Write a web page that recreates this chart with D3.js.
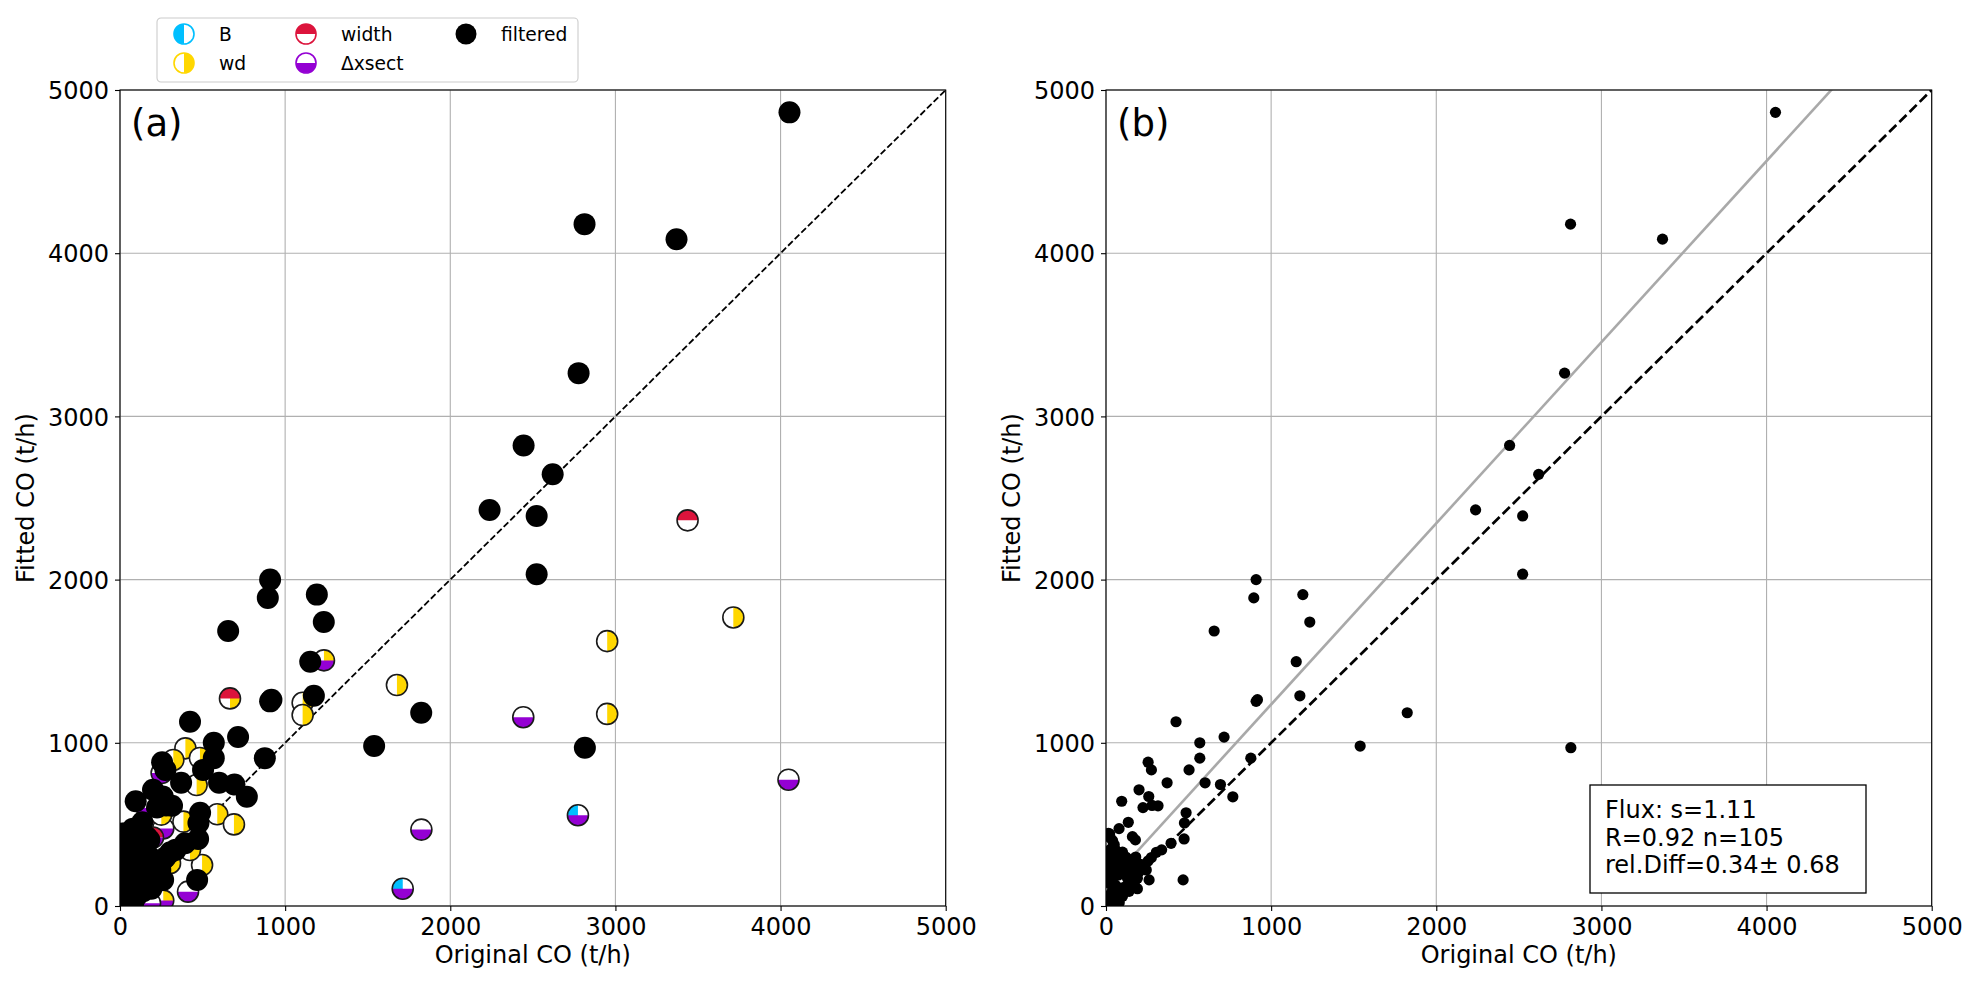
<!DOCTYPE html>
<html>
<head>
<meta charset="utf-8">
<script src="https://cdn.jsdelivr.net/npm/d3@7"></script>
<style>
  body { margin: 0; background: #fff; }
  svg { font-family: "DejaVu Sans", sans-serif; }
</style>
</head>
<body>
<div id="chart"></div>
<script>
// axis ticks (both panels share the same range)
const tickValues = [0, 1000, 2000, 3000, 4000, 5000];

// filtered points (black): original CO, fitted CO
const filteredX = [4054, 2813, 3370, 2777, 2444, 2620, 2238, 2523, 2523,
  909, 895, 1192, 1234, 655, 1152, 917, 909, 1174, 1824, 424, 1539, 568, 715, 568, 877,
  255, 275, 503, 370, 600, 693, 768, 200, 259, 224, 279, 315, 95, 485, 475, 135, 79,
  160, 178, 22, 473, 394, 337, 305, 275, 255, 244, 261, 467, 190, 83, 2815,
  15, 25, 40, 50, 30, 60, 20, 45, 70, 35, 80, 10,
  100, 120, 140, 160, 180, 130, 110, 150, 200, 190, 170, 210, 225,
  5, 15, 25, 40, 55, 20, 70, 90, 120, 140, 100, 60, 35, 80, 150, 30, 10, 50, 75,
  130, 95, 65, 180];
const filteredY = [4863, 4178, 4086, 3265, 2822, 2645, 2427, 2390, 2033,
  2000, 1888, 1908, 1740, 1685, 1497, 1264, 1254, 1288, 1184, 1129, 980, 1000, 1035, 906, 906,
  881, 834, 834, 755, 755, 744, 669, 712, 671, 603, 616, 614, 642, 571, 509, 513, 474,
  425, 405, 442, 411, 384, 344, 329, 297, 276, 221, 160, 160, 106, 47, 970,
  445, 420, 400, 375, 350, 340, 310, 300, 320, 280, 275, 250,
  330, 300, 285, 250, 230, 240, 210, 200, 210, 170, 140, 255, 240,
  20, 45, 70, 100, 130, 140, 90, 110, 120, 90, 60, 40, 15, 20, 130, 170, 190, 210, 190,
  170, 270, 240, 300];

// rejected points with the reason flags
const rejectedX = [3437, 3714, 2950, 2950, 1677, 2442, 4048, 2773, 1825, 1712,
  1235, 666, 1106, 1106, 396, 484, 323, 464, 589, 690, 497, 424, 384, 303,
  412, 262, 182, 252, 161, 222, 262, 20, 150, 200, 100, 60, 250];
const rejectedY = [2363, 1768, 1623, 1177, 1354, 1157, 774, 556, 468, 106,
  1505, 1272, 1245, 1170, 966, 907, 895, 741, 562, 500, 251, 343, 517, 262,
  88, 33, 17, 815, 600, 508, 475, 282, 380, 420, 150, 60, 560];
const rejectedFlags = ["width", "wd", "wd", "wd", "wd", "dx", "dx", "B dx", "dx", "B dx",
  "wd dx", "wd width", "wd", "wd", "wd", "wd", "wd", "wd", "wd", "wd", "wd", "wd", "wd", "wd",
  "dx", "wd dx", "dx", "dx", "dx", "width", "dx", "width", "wd", "width dx", "dx", "wd", "wd"];

const flagNames = ["B", "wd", "width", "dx"];
const flagLabels = ["B", "wd", "width", "\u0394xsect"];
const flagColors = ["#00bfff", "#ffd700", "#dc143c", "#9400d3"];

const fitSlope = 1.11, fitIntercept = 125;
const statLines = ["Flux: s=1.11", "R=0.92 n=105", "rel.Diff=0.34\u00b1 0.68"];

const W = 1978, H = 986;
const svg = d3.select("#chart").append("svg").attr("width", W).attr("height", H);

// half disc paths for each flag
function halfPath(flag, r) {
  if (flag === "B") return `M0,${-r}A${r},${r} 0 0 0 0,${r}Z`;
  if (flag === "wd") return `M0,${-r}A${r},${r} 0 0 1 0,${r}Z`;
  if (flag === "width") return `M${-r},0A${r},${r} 0 0 1 ${r},0Z`;
  return `M${-r},0A${r},${r} 0 0 0 ${r},0Z`;
}

function makePanel(id, left, label) {
  const p = { left: left, top: 90, w: 825.7, h: 816 };
  p.g = svg.append("g").attr("transform", `translate(${p.left},${p.top})`);
  p.x = d3.scaleLinear().domain([0, 5000]).range([0, p.w]);
  p.y = d3.scaleLinear().domain([0, 5000]).range([p.h, 0]);

  svg.append("clipPath").attr("id", "clip" + id)
    .append("rect").attr("width", p.w).attr("height", p.h);

  // grid
  const grid = p.g.append("g").attr("stroke", "#b0b0b0").attr("stroke-width", 1.1);
  grid.selectAll(".gx").data(tickValues).join("line")
    .attr("x1", d => p.x(d)).attr("x2", d => p.x(d)).attr("y1", 0).attr("y2", p.h);
  grid.selectAll(".gy").data(tickValues).join("line")
    .attr("y1", d => p.y(d)).attr("y2", d => p.y(d)).attr("x1", 0).attr("x2", p.w);

  p.area = p.g.append("g").attr("clip-path", `url(#clip${id})`);

  // axes
  const fmt = d3.format("d");
  const ax = p.g.append("g").attr("transform", `translate(0,${p.h})`)
    .call(d3.axisBottom(p.x).tickValues(tickValues).tickFormat(fmt).tickSize(5).tickPadding(6));
  const ay = p.g.append("g")
    .call(d3.axisLeft(p.y).tickValues(tickValues).tickFormat(fmt).tickSize(5).tickPadding(6));
  [ax, ay].forEach(a => {
    a.select(".domain").remove();
    a.selectAll("line").attr("stroke", "#000").attr("stroke-width", 1.1);
    a.selectAll("text").attr("font-size", 24).attr("fill", "#000")
      .attr("font-family", "DejaVu Sans");
  });
  ax.selectAll("text").attr("dy", "0.74em");
  ay.selectAll("text").attr("dy", "0.36em");

  p.g.append("text").attr("x", p.w / 2).attr("y", p.h + 57)
    .attr("text-anchor", "middle").attr("font-size", 24).text("Original CO (t/h)");
  p.g.append("text").attr("transform", `translate(-86,${p.h / 2}) rotate(-90)`)
    .attr("text-anchor", "middle").attr("font-size", 24).text("Fitted CO (t/h)");
  p.g.append("text").attr("x", 11).attr("y", 46).attr("font-size", 37).text(label);
  return p;
}

function frame(p) {
  p.g.append("rect").attr("width", p.w).attr("height", p.h)
    .attr("fill", "none").attr("stroke", "#000").attr("stroke-width", 1.1);
}

function drawFlagMarker(g, flags, r, edge) {
  g.append("circle").attr("r", r).attr("fill", "#fff");
  flagNames.forEach((f, i) => {
    if (flags.includes(f)) g.append("path").attr("d", halfPath(f, r)).attr("fill", flagColors[i]);
  });
  g.append("circle").attr("r", r).attr("fill", "none")
    .attr("stroke", edge).attr("stroke-width", 1.6);
}

// ---------- panel (a)
const pa = makePanel("a", 120, "(a)");
pa.area.append("line")
  .attr("x1", pa.x(0)).attr("y1", pa.y(0)).attr("x2", pa.x(5000)).attr("y2", pa.y(5000))
  .attr("stroke", "#000").attr("stroke-width", 1.8).attr("stroke-dasharray", "6.5,2.8");

rejectedX.forEach((v, i) => {
  const g = pa.area.append("g")
    .attr("transform", `translate(${pa.x(v)},${pa.y(rejectedY[i])})`);
  drawFlagMarker(g, rejectedFlags[i].split(" "), 10.5, "#1a1a1a");
});
pa.area.selectAll(".filt").data(filteredX).join("circle")
  .attr("cx", d => pa.x(d)).attr("cy", (d, i) => pa.y(filteredY[i]))
  .attr("r", 11).attr("fill", "#000");
frame(pa);

// legend
const leg = svg.append("g").attr("transform", "translate(157,18)");
leg.append("rect").attr("width", 421).attr("height", 64).attr("rx", 4)
  .attr("fill", "#fff").attr("stroke", "#cccccc").attr("stroke-width", 1.1);
const legItems = [
  { flag: "B", col: 0, row: 0 }, { flag: "wd", col: 0, row: 1 },
  { flag: "width", col: 1, row: 0 }, { flag: "dx", col: 1, row: 1 },
  { flag: "filtered", col: 2, row: 0 }
];
const colX = [27, 149, 309];
legItems.forEach(it => {
  const mx = colX[it.col], my = 16 + it.row * 29;
  const g = leg.append("g").attr("transform", `translate(${mx},${my})`);
  const k = flagNames.indexOf(it.flag);
  if (it.flag === "filtered") {
    g.append("circle").attr("r", 10.5).attr("fill", "#000");
  } else {
    drawFlagMarker(g, [it.flag], 10, flagColors[k]);
  }
  leg.append("text").attr("x", mx + 35).attr("y", my + 7).attr("font-size", 18.7)
    .text(it.flag === "filtered" ? "filtered" : flagLabels[k]);
});

// ---------- panel (b)
const pb = makePanel("b", 1106, "(b)");
pb.area.append("line")
  .attr("x1", pb.x(0)).attr("y1", pb.y(fitIntercept))
  .attr("x2", pb.x(5000)).attr("y2", pb.y(fitIntercept + fitSlope * 5000))
  .attr("stroke", "#a9a9a9").attr("stroke-width", 2.6);
pb.area.append("line")
  .attr("x1", pb.x(0)).attr("y1", pb.y(0)).attr("x2", pb.x(5000)).attr("y2", pb.y(5000))
  .attr("stroke", "#000").attr("stroke-width", 2.7).attr("stroke-dasharray", "10,4.3");
pb.area.selectAll(".filt").data(filteredX).join("circle")
  .attr("cx", d => pb.x(d)).attr("cy", (d, i) => pb.y(filteredY[i]))
  .attr("r", 5.6).attr("fill", "#000");
frame(pb);

// stats box
const box = svg.append("g").attr("transform", "translate(1590,785)");
box.append("rect").attr("width", 276).attr("height", 108)
  .attr("fill", "#fff").attr("stroke", "#000").attr("stroke-width", 1.3);
box.selectAll("text").data(statLines).join("text")
  .attr("x", 15).attr("y", (d, i) => 33 + i * 27.5)
  .attr("font-size", 24).text(d => d);
</script>
</body>
</html>
